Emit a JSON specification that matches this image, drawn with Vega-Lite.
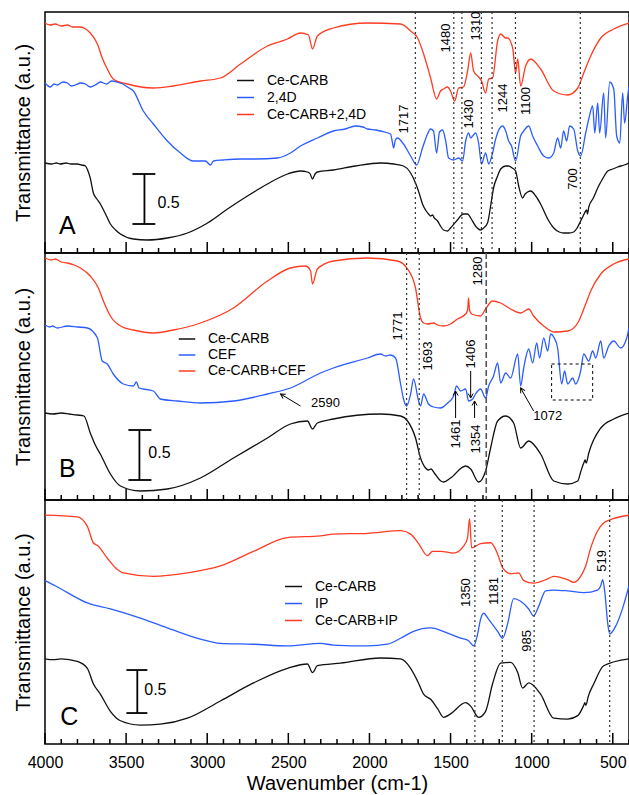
{
"$schema": "https://vega.github.io/schema/vega-lite/v6.json",
"padding": {"left": 12, "top": 10, "right": 0, "bottom": 0},
"spacing": 0,
"bounds": "flush",
"resolve": {"scale": {"color": "independent", "x": "independent", "y": "independent"}},
"config": {
  "font": "Liberation Sans",
  "view": {"stroke": "#000", "strokeWidth": 1.5},
  "axis": {"grid": false, "domain": false, "labelFont": "Liberation Sans", "labelFontSize": 16, "labelColor": "#000", "titleFont": "Liberation Sans", "titleColor": "#000", "titleFontWeight": "normal", "titleFontSize": 20},
  "legend": {"labelFont": "Liberation Sans", "labelFontSize": 14, "labelColor": "#000"}
},
"datasets": {
"tkA": [{"w":4000,"t":0,"t2":0.11},{"w":3900,"t":0,"t2":0.05},{"w":3800,"t":0,"t2":0.05},{"w":3700,"t":0,"t2":0.05},{"w":3600,"t":0,"t2":0.05},{"w":3500,"t":0,"t2":0.11},{"w":3400,"t":0,"t2":0.05},{"w":3300,"t":0,"t2":0.05},{"w":3200,"t":0,"t2":0.05},{"w":3100,"t":0,"t2":0.05},{"w":3000,"t":0,"t2":0.11},{"w":2900,"t":0,"t2":0.05},{"w":2800,"t":0,"t2":0.05},{"w":2700,"t":0,"t2":0.05},{"w":2600,"t":0,"t2":0.05},{"w":2500,"t":0,"t2":0.11},{"w":2400,"t":0,"t2":0.05},{"w":2300,"t":0,"t2":0.05},{"w":2200,"t":0,"t2":0.05},{"w":2100,"t":0,"t2":0.05},{"w":2000,"t":0,"t2":0.11},{"w":1900,"t":0,"t2":0.05},{"w":1800,"t":0,"t2":0.05},{"w":1700,"t":0,"t2":0.05},{"w":1600,"t":0,"t2":0.05},{"w":1500,"t":0,"t2":0.11},{"w":1400,"t":0,"t2":0.05},{"w":1300,"t":0,"t2":0.05},{"w":1200,"t":0,"t2":0.05},{"w":1100,"t":0,"t2":0.05},{"w":1000,"t":0,"t2":0.11},{"w":900,"t":0,"t2":0.05},{"w":800,"t":0,"t2":0.05},{"w":700,"t":0,"t2":0.05},{"w":600,"t":0,"t2":0.05},{"w":500,"t":0,"t2":0.11},{"w":400,"t":0,"t2":0.05}],
"tkC": [{"w":4000,"t":0.07,"t2":0.198},{"w":3900,"t":0.07,"t2":0.128},{"w":3800,"t":0.07,"t2":0.128},{"w":3700,"t":0.07,"t2":0.128},{"w":3600,"t":0.07,"t2":0.128},{"w":3500,"t":0.07,"t2":0.198},{"w":3400,"t":0.07,"t2":0.128},{"w":3300,"t":0.07,"t2":0.128},{"w":3200,"t":0.07,"t2":0.128},{"w":3100,"t":0.07,"t2":0.128},{"w":3000,"t":0.07,"t2":0.198},{"w":2900,"t":0.07,"t2":0.128},{"w":2800,"t":0.07,"t2":0.128},{"w":2700,"t":0.07,"t2":0.128},{"w":2600,"t":0.07,"t2":0.128},{"w":2500,"t":0.07,"t2":0.198},{"w":2400,"t":0.07,"t2":0.128},{"w":2300,"t":0.07,"t2":0.128},{"w":2200,"t":0.07,"t2":0.128},{"w":2100,"t":0.07,"t2":0.128},{"w":2000,"t":0.07,"t2":0.198},{"w":1900,"t":0.07,"t2":0.128},{"w":1800,"t":0.07,"t2":0.128},{"w":1700,"t":0.07,"t2":0.128},{"w":1600,"t":0.07,"t2":0.128},{"w":1500,"t":0.07,"t2":0.198},{"w":1400,"t":0.07,"t2":0.128},{"w":1300,"t":0.07,"t2":0.128},{"w":1200,"t":0.07,"t2":0.128},{"w":1100,"t":0.07,"t2":0.128},{"w":1000,"t":0.07,"t2":0.198},{"w":900,"t":0.07,"t2":0.128},{"w":800,"t":0.07,"t2":0.128},{"w":700,"t":0.07,"t2":0.128},{"w":600,"t":0.07,"t2":0.128},{"w":500,"t":0.07,"t2":0.198},{"w":400,"t":0.07,"t2":0.128}],
"A": [
{"w":4000,"t":0.90,"s":"Ce-CARB"},{"w":3960,"t":0.89,"s":"Ce-CARB"},{"w":3930,"t":0.90,"s":"Ce-CARB"},{"w":3906,"t":0.89,"s":"Ce-CARB"},{"w":3870,"t":0.90,"s":"Ce-CARB"},{"w":3840,"t":0.89,"s":"Ce-CARB"},{"w":3801,"t":0.89,"s":"Ce-CARB"},{"w":3775,"t":0.88,"s":"Ce-CARB"},{"w":3751,"t":0.87,"s":"Ce-CARB"},{"w":3735,"t":0.82,"s":"Ce-CARB"},{"w":3721,"t":0.75,"s":"Ce-CARB"},{"w":3702,"t":0.60,"s":"Ce-CARB"},{"w":3680,"t":0.54,"s":"Ce-CARB"},{"w":3659,"t":0.49,"s":"Ce-CARB"},{"w":3630,"t":0.40,"s":"Ce-CARB"},{"w":3597,"t":0.29,"s":"Ce-CARB"},{"w":3565,"t":0.23,"s":"Ce-CARB"},{"w":3535,"t":0.19,"s":"Ce-CARB"},{"w":3455,"t":0.14,"s":"Ce-CARB"},{"w":3369,"t":0.13,"s":"Ce-CARB"},{"w":3246,"t":0.15,"s":"Ce-CARB"},{"w":3122,"t":0.20,"s":"Ce-CARB"},{"w":2998,"t":0.30,"s":"Ce-CARB"},{"w":2875,"t":0.44,"s":"Ce-CARB"},{"w":2752,"t":0.57,"s":"Ce-CARB"},{"w":2629,"t":0.69,"s":"Ce-CARB"},{"w":2505,"t":0.79,"s":"Ce-CARB"},{"w":2425,"t":0.82,"s":"Ce-CARB"},{"w":2382,"t":0.81,"s":"Ce-CARB"},{"w":2365,"t":0.79,"s":"Ce-CARB"},{"w":2351,"t":0.74,"s":"Ce-CARB"},{"w":2335,"t":0.79,"s":"Ce-CARB"},{"w":2321,"t":0.81,"s":"Ce-CARB"},{"w":2222,"t":0.83,"s":"Ce-CARB"},{"w":2086,"t":0.87,"s":"Ce-CARB"},{"w":1932,"t":0.90,"s":"Ce-CARB"},{"w":1850,"t":0.89,"s":"Ce-CARB"},{"w":1790,"t":0.87,"s":"Ce-CARB"},{"w":1750,"t":0.81,"s":"Ce-CARB"},{"w":1716,"t":0.70,"s":"Ce-CARB"},{"w":1690,"t":0.58,"s":"Ce-CARB"},{"w":1673,"t":0.49,"s":"Ce-CARB"},{"w":1650,"t":0.42,"s":"Ce-CARB"},{"w":1636,"t":0.39,"s":"Ce-CARB"},{"w":1623,"t":0.37,"s":"Ce-CARB"},{"w":1611,"t":0.38,"s":"Ce-CARB"},{"w":1600,"t":0.35,"s":"Ce-CARB"},{"w":1580,"t":0.32,"s":"Ce-CARB"},{"w":1562,"t":0.27,"s":"Ce-CARB"},{"w":1543,"t":0.23,"s":"Ce-CARB"},{"w":1518,"t":0.22,"s":"Ce-CARB"},{"w":1500,"t":0.25,"s":"Ce-CARB"},{"w":1463,"t":0.32,"s":"Ce-CARB"},{"w":1420,"t":0.39,"s":"Ce-CARB"},{"w":1395,"t":0.39,"s":"Ce-CARB"},{"w":1376,"t":0.35,"s":"Ce-CARB"},{"w":1346,"t":0.27,"s":"Ce-CARB"},{"w":1315,"t":0.23,"s":"Ce-CARB"},{"w":1296,"t":0.25,"s":"Ce-CARB"},{"w":1272,"t":0.30,"s":"Ce-CARB"},{"w":1253,"t":0.47,"s":"Ce-CARB"},{"w":1235,"t":0.65,"s":"Ce-CARB"},{"w":1210,"t":0.77,"s":"Ce-CARB"},{"w":1191,"t":0.84,"s":"Ce-CARB"},{"w":1160,"t":0.87,"s":"Ce-CARB"},{"w":1142,"t":0.87,"s":"Ce-CARB"},{"w":1120,"t":0.85,"s":"Ce-CARB"},{"w":1099,"t":0.82,"s":"Ce-CARB"},{"w":1080,"t":0.67,"s":"Ce-CARB"},{"w":1056,"t":0.55,"s":"Ce-CARB"},{"w":1040,"t":0.59,"s":"Ce-CARB"},{"w":1025,"t":0.61,"s":"Ce-CARB"},{"w":1006,"t":0.62,"s":"Ce-CARB"},{"w":975,"t":0.57,"s":"Ce-CARB"},{"w":945,"t":0.49,"s":"Ce-CARB"},{"w":901,"t":0.34,"s":"Ce-CARB"},{"w":864,"t":0.25,"s":"Ce-CARB"},{"w":830,"t":0.21,"s":"Ce-CARB"},{"w":803,"t":0.20,"s":"Ce-CARB"},{"w":770,"t":0.20,"s":"Ce-CARB"},{"w":741,"t":0.21,"s":"Ce-CARB"},{"w":720,"t":0.25,"s":"Ce-CARB"},{"w":698,"t":0.32,"s":"Ce-CARB"},{"w":680,"t":0.38,"s":"Ce-CARB"},{"w":667,"t":0.42,"s":"Ce-CARB"},{"w":661,"t":0.43,"s":"Ce-CARB"},{"w":656,"t":0.39,"s":"Ce-CARB"},{"w":648,"t":0.46,"s":"Ce-CARB"},{"w":620,"t":0.55,"s":"Ce-CARB"},{"w":593,"t":0.65,"s":"Ce-CARB"},{"w":560,"t":0.75,"s":"Ce-CARB"},{"w":531,"t":0.82,"s":"Ce-CARB"},{"w":500,"t":0.84,"s":"Ce-CARB"},{"w":470,"t":0.86,"s":"Ce-CARB"},{"w":430,"t":0.88,"s":"Ce-CARB"},{"w":400,"t":0.90,"s":"Ce-CARB"},
{"w":4000,"t":1.70,"s":"2,4D"},{"w":3967,"t":1.66,"s":"2,4D"},{"w":3945,"t":1.69,"s":"2,4D"},{"w":3924,"t":1.68,"s":"2,4D"},{"w":3890,"t":1.71,"s":"2,4D"},{"w":3862,"t":1.70,"s":"2,4D"},{"w":3840,"t":1.67,"s":"2,4D"},{"w":3813,"t":1.68,"s":"2,4D"},{"w":3780,"t":1.70,"s":"2,4D"},{"w":3751,"t":1.69,"s":"2,4D"},{"w":3720,"t":1.66,"s":"2,4D"},{"w":3690,"t":1.68,"s":"2,4D"},{"w":3659,"t":1.71,"s":"2,4D"},{"w":3620,"t":1.69,"s":"2,4D"},{"w":3590,"t":1.72,"s":"2,4D"},{"w":3554,"t":1.71,"s":"2,4D"},{"w":3520,"t":1.69,"s":"2,4D"},{"w":3492,"t":1.66,"s":"2,4D"},{"w":3455,"t":1.62,"s":"2,4D"},{"w":3394,"t":1.42,"s":"2,4D"},{"w":3332,"t":1.29,"s":"2,4D"},{"w":3246,"t":1.12,"s":"2,4D"},{"w":3165,"t":1.00,"s":"2,4D"},{"w":3085,"t":0.92,"s":"2,4D"},{"w":3011,"t":0.92,"s":"2,4D"},{"w":2980,"t":0.88,"s":"2,4D"},{"w":2961,"t":0.92,"s":"2,4D"},{"w":2900,"t":0.93,"s":"2,4D"},{"w":2795,"t":0.94,"s":"2,4D"},{"w":2700,"t":0.94,"s":"2,4D"},{"w":2567,"t":0.95,"s":"2,4D"},{"w":2487,"t":1.00,"s":"2,4D"},{"w":2425,"t":1.07,"s":"2,4D"},{"w":2321,"t":1.15,"s":"2,4D"},{"w":2222,"t":1.22,"s":"2,4D"},{"w":2150,"t":1.24,"s":"2,4D"},{"w":2086,"t":1.27,"s":"2,4D"},{"w":2040,"t":1.26,"s":"2,4D"},{"w":2012,"t":1.24,"s":"2,4D"},{"w":1960,"t":1.23,"s":"2,4D"},{"w":1932,"t":1.22,"s":"2,4D"},{"w":1870,"t":1.19,"s":"2,4D"},{"w":1860,"t":1.12,"s":"2,4D"},{"w":1851,"t":1.05,"s":"2,4D"},{"w":1840,"t":1.13,"s":"2,4D"},{"w":1827,"t":1.15,"s":"2,4D"},{"w":1790,"t":1.09,"s":"2,4D"},{"w":1746,"t":0.97,"s":"2,4D"},{"w":1709,"t":0.88,"s":"2,4D"},{"w":1673,"t":1.05,"s":"2,4D"},{"w":1642,"t":1.19,"s":"2,4D"},{"w":1623,"t":1.24,"s":"2,4D"},{"w":1605,"t":1.22,"s":"2,4D"},{"w":1586,"t":1.00,"s":"2,4D"},{"w":1568,"t":1.21,"s":"2,4D"},{"w":1549,"t":1.23,"s":"2,4D"},{"w":1530,"t":1.12,"s":"2,4D"},{"w":1512,"t":0.95,"s":"2,4D"},{"w":1481,"t":0.93,"s":"2,4D"},{"w":1450,"t":0.95,"s":"2,4D"},{"w":1426,"t":0.92,"s":"2,4D"},{"w":1407,"t":1.12,"s":"2,4D"},{"w":1389,"t":1.20,"s":"2,4D"},{"w":1376,"t":1.15,"s":"2,4D"},{"w":1364,"t":1.17,"s":"2,4D"},{"w":1346,"t":1.20,"s":"2,4D"},{"w":1327,"t":1.10,"s":"2,4D"},{"w":1309,"t":0.89,"s":"2,4D"},{"w":1284,"t":1.00,"s":"2,4D"},{"w":1265,"t":0.89,"s":"2,4D"},{"w":1241,"t":1.00,"s":"2,4D"},{"w":1222,"t":1.14,"s":"2,4D"},{"w":1179,"t":1.27,"s":"2,4D"},{"w":1160,"t":1.22,"s":"2,4D"},{"w":1142,"t":1.12,"s":"2,4D"},{"w":1124,"t":1.07,"s":"2,4D"},{"w":1099,"t":0.92,"s":"2,4D"},{"w":1068,"t":1.17,"s":"2,4D"},{"w":1049,"t":1.22,"s":"2,4D"},{"w":1018,"t":1.27,"s":"2,4D"},{"w":994,"t":1.17,"s":"2,4D"},{"w":963,"t":1.07,"s":"2,4D"},{"w":926,"t":0.97,"s":"2,4D"},{"w":895,"t":0.95,"s":"2,4D"},{"w":864,"t":1.00,"s":"2,4D"},{"w":840,"t":1.15,"s":"2,4D"},{"w":821,"t":1.05,"s":"2,4D"},{"w":803,"t":1.22,"s":"2,4D"},{"w":784,"t":1.12,"s":"2,4D"},{"w":766,"t":1.27,"s":"2,4D"},{"w":741,"t":1.24,"s":"2,4D"},{"w":716,"t":1.02,"s":"2,4D"},{"w":698,"t":0.97,"s":"2,4D"},{"w":667,"t":1.20,"s":"2,4D"},{"w":648,"t":1.34,"s":"2,4D"},{"w":624,"t":1.47,"s":"2,4D"},{"w":611,"t":1.20,"s":"2,4D"},{"w":593,"t":1.50,"s":"2,4D"},{"w":581,"t":1.20,"s":"2,4D"},{"w":556,"t":1.60,"s":"2,4D"},{"w":544,"t":1.15,"s":"2,4D"},{"w":519,"t":1.71,"s":"2,4D"},{"w":494,"t":1.64,"s":"2,4D"},{"w":476,"t":1.17,"s":"2,4D"},{"w":457,"t":1.10,"s":"2,4D"},{"w":439,"t":1.60,"s":"2,4D"},{"w":427,"t":1.30,"s":"2,4D"},{"w":408,"t":1.57,"s":"2,4D"},{"w":400,"t":1.67,"s":"2,4D"},
{"w":4000,"t":2.30,"s":"Ce-CARB+2,4D"},{"w":3970,"t":2.28,"s":"Ce-CARB+2,4D"},{"w":3937,"t":2.29,"s":"Ce-CARB+2,4D"},{"w":3900,"t":2.27,"s":"Ce-CARB+2,4D"},{"w":3862,"t":2.28,"s":"Ce-CARB+2,4D"},{"w":3830,"t":2.26,"s":"Ce-CARB+2,4D"},{"w":3782,"t":2.26,"s":"Ce-CARB+2,4D"},{"w":3750,"t":2.24,"s":"Ce-CARB+2,4D"},{"w":3721,"t":2.20,"s":"Ce-CARB+2,4D"},{"w":3677,"t":2.09,"s":"Ce-CARB+2,4D"},{"w":3647,"t":1.95,"s":"Ce-CARB+2,4D"},{"w":3616,"t":1.84,"s":"Ce-CARB+2,4D"},{"w":3579,"t":1.74,"s":"Ce-CARB+2,4D"},{"w":3492,"t":1.69,"s":"Ce-CARB+2,4D"},{"w":3332,"t":1.65,"s":"Ce-CARB+2,4D"},{"w":3209,"t":1.67,"s":"Ce-CARB+2,4D"},{"w":3042,"t":1.72,"s":"Ce-CARB+2,4D"},{"w":2919,"t":1.75,"s":"Ce-CARB+2,4D"},{"w":2795,"t":1.89,"s":"Ce-CARB+2,4D"},{"w":2629,"t":2.07,"s":"Ce-CARB+2,4D"},{"w":2505,"t":2.14,"s":"Ce-CARB+2,4D"},{"w":2425,"t":2.20,"s":"Ce-CARB+2,4D"},{"w":2376,"t":2.18,"s":"Ce-CARB+2,4D"},{"w":2351,"t":2.04,"s":"Ce-CARB+2,4D"},{"w":2321,"t":2.17,"s":"Ce-CARB+2,4D"},{"w":2222,"t":2.25,"s":"Ce-CARB+2,4D"},{"w":2012,"t":2.30,"s":"Ce-CARB+2,4D"},{"w":1808,"t":2.29,"s":"Ce-CARB+2,4D"},{"w":1746,"t":2.22,"s":"Ce-CARB+2,4D"},{"w":1703,"t":2.15,"s":"Ce-CARB+2,4D"},{"w":1666,"t":1.99,"s":"Ce-CARB+2,4D"},{"w":1623,"t":1.75,"s":"Ce-CARB+2,4D"},{"w":1586,"t":1.54,"s":"Ce-CARB+2,4D"},{"w":1562,"t":1.62,"s":"Ce-CARB+2,4D"},{"w":1543,"t":1.64,"s":"Ce-CARB+2,4D"},{"w":1518,"t":1.66,"s":"Ce-CARB+2,4D"},{"w":1500,"t":1.62,"s":"Ce-CARB+2,4D"},{"w":1475,"t":1.52,"s":"Ce-CARB+2,4D"},{"w":1450,"t":1.65,"s":"Ce-CARB+2,4D"},{"w":1420,"t":1.66,"s":"Ce-CARB+2,4D"},{"w":1395,"t":1.82,"s":"Ce-CARB+2,4D"},{"w":1376,"t":2.00,"s":"Ce-CARB+2,4D"},{"w":1358,"t":1.82,"s":"Ce-CARB+2,4D"},{"w":1327,"t":1.76,"s":"Ce-CARB+2,4D"},{"w":1309,"t":1.72,"s":"Ce-CARB+2,4D"},{"w":1284,"t":1.60,"s":"Ce-CARB+2,4D"},{"w":1265,"t":1.74,"s":"Ce-CARB+2,4D"},{"w":1241,"t":1.75,"s":"Ce-CARB+2,4D"},{"w":1210,"t":2.12,"s":"Ce-CARB+2,4D"},{"w":1191,"t":2.19,"s":"Ce-CARB+2,4D"},{"w":1160,"t":2.15,"s":"Ce-CARB+2,4D"},{"w":1148,"t":2.15,"s":"Ce-CARB+2,4D"},{"w":1117,"t":2.05,"s":"Ce-CARB+2,4D"},{"w":1099,"t":1.80,"s":"Ce-CARB+2,4D"},{"w":1086,"t":1.94,"s":"Ce-CARB+2,4D"},{"w":1068,"t":1.67,"s":"Ce-CARB+2,4D"},{"w":1037,"t":1.87,"s":"Ce-CARB+2,4D"},{"w":1006,"t":1.94,"s":"Ce-CARB+2,4D"},{"w":945,"t":1.84,"s":"Ce-CARB+2,4D"},{"w":864,"t":1.62,"s":"Ce-CARB+2,4D"},{"w":778,"t":1.58,"s":"Ce-CARB+2,4D"},{"w":716,"t":1.65,"s":"Ce-CARB+2,4D"},{"w":679,"t":1.80,"s":"Ce-CARB+2,4D"},{"w":636,"t":1.97,"s":"Ce-CARB+2,4D"},{"w":574,"t":2.15,"s":"Ce-CARB+2,4D"},{"w":494,"t":2.24,"s":"Ce-CARB+2,4D"},{"w":400,"t":2.30,"s":"Ce-CARB+2,4D"}
],
"B": [
{"w":4000,"t":0.87,"s":"Ce-CARB"},{"w":3950,"t":0.86,"s":"Ce-CARB"},{"w":3900,"t":0.87,"s":"Ce-CARB"},{"w":3850,"t":0.86,"s":"Ce-CARB"},{"w":3801,"t":0.85,"s":"Ce-CARB"},{"w":3760,"t":0.84,"s":"Ce-CARB"},{"w":3721,"t":0.67,"s":"Ce-CARB"},{"w":3690,"t":0.55,"s":"Ce-CARB"},{"w":3659,"t":0.46,"s":"Ce-CARB"},{"w":3597,"t":0.26,"s":"Ce-CARB"},{"w":3535,"t":0.14,"s":"Ce-CARB"},{"w":3412,"t":0.09,"s":"Ce-CARB"},{"w":3246,"t":0.11,"s":"Ce-CARB"},{"w":3042,"t":0.22,"s":"Ce-CARB"},{"w":2838,"t":0.42,"s":"Ce-CARB"},{"w":2629,"t":0.62,"s":"Ce-CARB"},{"w":2487,"t":0.76,"s":"Ce-CARB"},{"w":2382,"t":0.79,"s":"Ce-CARB"},{"w":2351,"t":0.71,"s":"Ce-CARB"},{"w":2321,"t":0.77,"s":"Ce-CARB"},{"w":2222,"t":0.81,"s":"Ce-CARB"},{"w":1932,"t":0.86,"s":"Ce-CARB"},{"w":1808,"t":0.84,"s":"Ce-CARB"},{"w":1765,"t":0.79,"s":"Ce-CARB"},{"w":1716,"t":0.62,"s":"Ce-CARB"},{"w":1685,"t":0.42,"s":"Ce-CARB"},{"w":1654,"t":0.32,"s":"Ce-CARB"},{"w":1636,"t":0.30,"s":"Ce-CARB"},{"w":1620,"t":0.31,"s":"Ce-CARB"},{"w":1600,"t":0.27,"s":"Ce-CARB"},{"w":1560,"t":0.19,"s":"Ce-CARB"},{"w":1543,"t":0.18,"s":"Ce-CARB"},{"w":1500,"t":0.22,"s":"Ce-CARB"},{"w":1407,"t":0.34,"s":"Ce-CARB"},{"w":1376,"t":0.31,"s":"Ce-CARB"},{"w":1327,"t":0.18,"s":"Ce-CARB"},{"w":1284,"t":0.29,"s":"Ce-CARB"},{"w":1253,"t":0.52,"s":"Ce-CARB"},{"w":1210,"t":0.79,"s":"Ce-CARB"},{"w":1160,"t":0.84,"s":"Ce-CARB"},{"w":1111,"t":0.77,"s":"Ce-CARB"},{"w":1068,"t":0.52,"s":"Ce-CARB"},{"w":1018,"t":0.59,"s":"Ce-CARB"},{"w":945,"t":0.46,"s":"Ce-CARB"},{"w":864,"t":0.19,"s":"Ce-CARB"},{"w":778,"t":0.16,"s":"Ce-CARB"},{"w":716,"t":0.19,"s":"Ce-CARB"},{"w":698,"t":0.28,"s":"Ce-CARB"},{"w":679,"t":0.37,"s":"Ce-CARB"},{"w":670,"t":0.40,"s":"Ce-CARB"},{"w":664,"t":0.37,"s":"Ce-CARB"},{"w":648,"t":0.47,"s":"Ce-CARB"},{"w":574,"t":0.72,"s":"Ce-CARB"},{"w":494,"t":0.81,"s":"Ce-CARB"},{"w":400,"t":0.87,"s":"Ce-CARB"},
{"w":4000,"t":1.75,"s":"CEF"},{"w":3970,"t":1.73,"s":"CEF"},{"w":3955,"t":1.74,"s":"CEF"},{"w":3924,"t":1.72,"s":"CEF"},{"w":3862,"t":1.74,"s":"CEF"},{"w":3800,"t":1.73,"s":"CEF"},{"w":3739,"t":1.72,"s":"CEF"},{"w":3677,"t":1.62,"s":"CEF"},{"w":3647,"t":1.39,"s":"CEF"},{"w":3616,"t":1.36,"s":"CEF"},{"w":3579,"t":1.26,"s":"CEF"},{"w":3517,"t":1.16,"s":"CEF"},{"w":3455,"t":1.14,"s":"CEF"},{"w":3437,"t":1.18,"s":"CEF"},{"w":3420,"t":1.12,"s":"CEF"},{"w":3332,"t":1.09,"s":"CEF"},{"w":3289,"t":1.01,"s":"CEF"},{"w":3184,"t":0.99,"s":"CEF"},{"w":3042,"t":0.97,"s":"CEF"},{"w":2838,"t":0.99,"s":"CEF"},{"w":2629,"t":1.06,"s":"CEF"},{"w":2487,"t":1.12,"s":"CEF"},{"w":2302,"t":1.27,"s":"CEF"},{"w":2222,"t":1.32,"s":"CEF"},{"w":2012,"t":1.42,"s":"CEF"},{"w":1932,"t":1.46,"s":"CEF"},{"w":1900,"t":1.44,"s":"CEF"},{"w":1870,"t":1.45,"s":"CEF"},{"w":1839,"t":1.42,"s":"CEF"},{"w":1808,"t":1.16,"s":"CEF"},{"w":1790,"t":1.01,"s":"CEF"},{"w":1771,"t":0.94,"s":"CEF"},{"w":1746,"t":1.06,"s":"CEF"},{"w":1728,"t":1.21,"s":"CEF"},{"w":1697,"t":0.99,"s":"CEF"},{"w":1685,"t":0.94,"s":"CEF"},{"w":1666,"t":1.06,"s":"CEF"},{"w":1636,"t":0.96,"s":"CEF"},{"w":1605,"t":0.93,"s":"CEF"},{"w":1562,"t":0.92,"s":"CEF"},{"w":1518,"t":0.97,"s":"CEF"},{"w":1481,"t":1.04,"s":"CEF"},{"w":1463,"t":1.14,"s":"CEF"},{"w":1438,"t":1.09,"s":"CEF"},{"w":1407,"t":1.11,"s":"CEF"},{"w":1389,"t":0.99,"s":"CEF"},{"w":1364,"t":1.01,"s":"CEF"},{"w":1346,"t":1.06,"s":"CEF"},{"w":1315,"t":1.11,"s":"CEF"},{"w":1284,"t":1.02,"s":"CEF"},{"w":1265,"t":1.14,"s":"CEF"},{"w":1235,"t":1.24,"s":"CEF"},{"w":1210,"t":1.37,"s":"CEF"},{"w":1191,"t":1.17,"s":"CEF"},{"w":1160,"t":1.27,"s":"CEF"},{"w":1130,"t":1.22,"s":"CEF"},{"w":1086,"t":1.46,"s":"CEF"},{"w":1068,"t":1.14,"s":"CEF"},{"w":1049,"t":1.32,"s":"CEF"},{"w":1018,"t":1.51,"s":"CEF"},{"w":994,"t":1.37,"s":"CEF"},{"w":969,"t":1.57,"s":"CEF"},{"w":951,"t":1.42,"s":"CEF"},{"w":926,"t":1.62,"s":"CEF"},{"w":901,"t":1.49,"s":"CEF"},{"w":883,"t":1.66,"s":"CEF"},{"w":864,"t":1.63,"s":"CEF"},{"w":840,"t":1.52,"s":"CEF"},{"w":815,"t":1.16,"s":"CEF"},{"w":797,"t":1.29,"s":"CEF"},{"w":778,"t":1.16,"s":"CEF"},{"w":747,"t":1.22,"s":"CEF"},{"w":729,"t":1.16,"s":"CEF"},{"w":698,"t":1.29,"s":"CEF"},{"w":679,"t":1.46,"s":"CEF"},{"w":648,"t":1.39,"s":"CEF"},{"w":624,"t":1.49,"s":"CEF"},{"w":605,"t":1.42,"s":"CEF"},{"w":574,"t":1.59,"s":"CEF"},{"w":556,"t":1.42,"s":"CEF"},{"w":525,"t":1.54,"s":"CEF"},{"w":494,"t":1.59,"s":"CEF"},{"w":451,"t":1.52,"s":"CEF"},{"w":414,"t":1.62,"s":"CEF"},{"w":400,"t":1.72,"s":"CEF"},
{"w":4000,"t":2.42,"s":"Ce-CARB+CEF"},{"w":3960,"t":2.40,"s":"Ce-CARB+CEF"},{"w":3937,"t":2.41,"s":"Ce-CARB+CEF"},{"w":3900,"t":2.38,"s":"Ce-CARB+CEF"},{"w":3862,"t":2.37,"s":"Ce-CARB+CEF"},{"w":3820,"t":2.35,"s":"Ce-CARB+CEF"},{"w":3782,"t":2.32,"s":"Ce-CARB+CEF"},{"w":3721,"t":2.24,"s":"Ce-CARB+CEF"},{"w":3671,"t":2.12,"s":"Ce-CARB+CEF"},{"w":3640,"t":1.99,"s":"Ce-CARB+CEF"},{"w":3597,"t":1.84,"s":"Ce-CARB+CEF"},{"w":3535,"t":1.74,"s":"Ce-CARB+CEF"},{"w":3455,"t":1.70,"s":"Ce-CARB+CEF"},{"w":3332,"t":1.67,"s":"Ce-CARB+CEF"},{"w":3209,"t":1.70,"s":"Ce-CARB+CEF"},{"w":3042,"t":1.77,"s":"Ce-CARB+CEF"},{"w":2838,"t":1.92,"s":"Ce-CARB+CEF"},{"w":2629,"t":2.19,"s":"Ce-CARB+CEF"},{"w":2487,"t":2.32,"s":"Ce-CARB+CEF"},{"w":2394,"t":2.34,"s":"Ce-CARB+CEF"},{"w":2363,"t":2.29,"s":"Ce-CARB+CEF"},{"w":2351,"t":2.16,"s":"Ce-CARB+CEF"},{"w":2321,"t":2.31,"s":"Ce-CARB+CEF"},{"w":2222,"t":2.39,"s":"Ce-CARB+CEF"},{"w":2012,"t":2.42,"s":"Ce-CARB+CEF"},{"w":1827,"t":2.39,"s":"Ce-CARB+CEF"},{"w":1765,"t":2.31,"s":"Ce-CARB+CEF"},{"w":1716,"t":2.12,"s":"Ce-CARB+CEF"},{"w":1685,"t":1.82,"s":"Ce-CARB+CEF"},{"w":1666,"t":1.77,"s":"Ce-CARB+CEF"},{"w":1640,"t":1.76,"s":"Ce-CARB+CEF"},{"w":1605,"t":1.77,"s":"Ce-CARB+CEF"},{"w":1580,"t":1.75,"s":"Ce-CARB+CEF"},{"w":1543,"t":1.74,"s":"Ce-CARB+CEF"},{"w":1500,"t":1.76,"s":"Ce-CARB+CEF"},{"w":1457,"t":1.81,"s":"Ce-CARB+CEF"},{"w":1407,"t":1.86,"s":"Ce-CARB+CEF"},{"w":1395,"t":1.90,"s":"Ce-CARB+CEF"},{"w":1389,"t":2.02,"s":"Ce-CARB+CEF"},{"w":1383,"t":1.90,"s":"Ce-CARB+CEF"},{"w":1370,"t":1.86,"s":"Ce-CARB+CEF"},{"w":1315,"t":1.84,"s":"Ce-CARB+CEF"},{"w":1284,"t":1.91,"s":"Ce-CARB+CEF"},{"w":1241,"t":1.99,"s":"Ce-CARB+CEF"},{"w":1191,"t":1.97,"s":"Ce-CARB+CEF"},{"w":1130,"t":1.91,"s":"Ce-CARB+CEF"},{"w":1068,"t":1.87,"s":"Ce-CARB+CEF"},{"w":1018,"t":1.91,"s":"Ce-CARB+CEF"},{"w":988,"t":1.84,"s":"Ce-CARB+CEF"},{"w":926,"t":1.74,"s":"Ce-CARB+CEF"},{"w":864,"t":1.68,"s":"Ce-CARB+CEF"},{"w":778,"t":1.69,"s":"Ce-CARB+CEF"},{"w":716,"t":1.77,"s":"Ce-CARB+CEF"},{"w":667,"t":1.96,"s":"Ce-CARB+CEF"},{"w":636,"t":2.09,"s":"Ce-CARB+CEF"},{"w":574,"t":2.26,"s":"Ce-CARB+CEF"},{"w":494,"t":2.36,"s":"Ce-CARB+CEF"},{"w":400,"t":2.41,"s":"Ce-CARB+CEF"}
],
"C": [
{"w":4000,"t":1.06,"s":"Ce-CARB"},{"w":3950,"t":1.05,"s":"Ce-CARB"},{"w":3900,"t":1.06,"s":"Ce-CARB"},{"w":3801,"t":1.03,"s":"Ce-CARB"},{"w":3739,"t":0.95,"s":"Ce-CARB"},{"w":3702,"t":0.77,"s":"Ce-CARB"},{"w":3659,"t":0.65,"s":"Ce-CARB"},{"w":3597,"t":0.45,"s":"Ce-CARB"},{"w":3535,"t":0.34,"s":"Ce-CARB"},{"w":3412,"t":0.29,"s":"Ce-CARB"},{"w":3289,"t":0.30,"s":"Ce-CARB"},{"w":3122,"t":0.37,"s":"Ce-CARB"},{"w":2919,"t":0.57,"s":"Ce-CARB"},{"w":2715,"t":0.78,"s":"Ce-CARB"},{"w":2505,"t":0.95,"s":"Ce-CARB"},{"w":2382,"t":1.00,"s":"Ce-CARB"},{"w":2351,"t":0.90,"s":"Ce-CARB"},{"w":2321,"t":0.98,"s":"Ce-CARB"},{"w":2178,"t":1.01,"s":"Ce-CARB"},{"w":1932,"t":1.07,"s":"Ce-CARB"},{"w":1808,"t":1.06,"s":"Ce-CARB"},{"w":1746,"t":0.95,"s":"Ce-CARB"},{"w":1703,"t":0.80,"s":"Ce-CARB"},{"w":1666,"t":0.65,"s":"Ce-CARB"},{"w":1623,"t":0.59,"s":"Ce-CARB"},{"w":1580,"t":0.48,"s":"Ce-CARB"},{"w":1543,"t":0.38,"s":"Ce-CARB"},{"w":1500,"t":0.42,"s":"Ce-CARB"},{"w":1407,"t":0.55,"s":"Ce-CARB"},{"w":1376,"t":0.51,"s":"Ce-CARB"},{"w":1327,"t":0.38,"s":"Ce-CARB"},{"w":1284,"t":0.45,"s":"Ce-CARB"},{"w":1241,"t":0.77,"s":"Ce-CARB"},{"w":1191,"t":1.01,"s":"Ce-CARB"},{"w":1130,"t":1.02,"s":"Ce-CARB"},{"w":1086,"t":0.90,"s":"Ce-CARB"},{"w":1056,"t":0.72,"s":"Ce-CARB"},{"w":1018,"t":0.78,"s":"Ce-CARB"},{"w":945,"t":0.65,"s":"Ce-CARB"},{"w":864,"t":0.37,"s":"Ce-CARB"},{"w":778,"t":0.36,"s":"Ce-CARB"},{"w":716,"t":0.40,"s":"Ce-CARB"},{"w":679,"t":0.52,"s":"Ce-CARB"},{"w":672,"t":0.55,"s":"Ce-CARB"},{"w":666,"t":0.52,"s":"Ce-CARB"},{"w":650,"t":0.63,"s":"Ce-CARB"},{"w":617,"t":0.77,"s":"Ce-CARB"},{"w":556,"t":0.98,"s":"Ce-CARB"},{"w":400,"t":1.06,"s":"Ce-CARB"},
{"w":4000,"t":1.97,"s":"IP"},{"w":3937,"t":1.91,"s":"IP"},{"w":3862,"t":1.83,"s":"IP"},{"w":3739,"t":1.71,"s":"IP"},{"w":3597,"t":1.64,"s":"IP"},{"w":3455,"t":1.56,"s":"IP"},{"w":3246,"t":1.42,"s":"IP"},{"w":3042,"t":1.29,"s":"IP"},{"w":2919,"t":1.24,"s":"IP"},{"w":2715,"t":1.23,"s":"IP"},{"w":2505,"t":1.21,"s":"IP"},{"w":2302,"t":1.24,"s":"IP"},{"w":2222,"t":1.22,"s":"IP"},{"w":2012,"t":1.21,"s":"IP"},{"w":1889,"t":1.23,"s":"IP"},{"w":1808,"t":1.30,"s":"IP"},{"w":1728,"t":1.38,"s":"IP"},{"w":1623,"t":1.42,"s":"IP"},{"w":1518,"t":1.36,"s":"IP"},{"w":1438,"t":1.30,"s":"IP"},{"w":1389,"t":1.27,"s":"IP"},{"w":1358,"t":1.21,"s":"IP"},{"w":1333,"t":1.35,"s":"IP"},{"w":1315,"t":1.52,"s":"IP"},{"w":1296,"t":1.59,"s":"IP"},{"w":1265,"t":1.52,"s":"IP"},{"w":1210,"t":1.38,"s":"IP"},{"w":1179,"t":1.30,"s":"IP"},{"w":1148,"t":1.47,"s":"IP"},{"w":1111,"t":1.76,"s":"IP"},{"w":1068,"t":1.73,"s":"IP"},{"w":1018,"t":1.64,"s":"IP"},{"w":988,"t":1.56,"s":"IP"},{"w":957,"t":1.67,"s":"IP"},{"w":914,"t":1.85,"s":"IP"},{"w":864,"t":1.86,"s":"IP"},{"w":778,"t":1.85,"s":"IP"},{"w":679,"t":1.83,"s":"IP"},{"w":593,"t":1.86,"s":"IP"},{"w":574,"t":1.91,"s":"IP"},{"w":562,"t":1.98,"s":"IP"},{"w":550,"t":1.85,"s":"IP"},{"w":531,"t":1.47,"s":"IP"},{"w":519,"t":1.35,"s":"IP"},{"w":482,"t":1.44,"s":"IP"},{"w":439,"t":1.65,"s":"IP"},{"w":400,"t":1.91,"s":"IP"},
{"w":4000,"t":2.73,"s":"Ce-CARB+IP"},{"w":3801,"t":2.71,"s":"Ce-CARB+IP"},{"w":3739,"t":2.60,"s":"Ce-CARB+IP"},{"w":3702,"t":2.41,"s":"Ce-CARB+IP"},{"w":3671,"t":2.37,"s":"Ce-CARB+IP"},{"w":3616,"t":2.23,"s":"Ce-CARB+IP"},{"w":3566,"t":2.12,"s":"Ce-CARB+IP"},{"w":3517,"t":2.06,"s":"Ce-CARB+IP"},{"w":3332,"t":2.02,"s":"Ce-CARB+IP"},{"w":3122,"t":2.06,"s":"Ce-CARB+IP"},{"w":2919,"t":2.14,"s":"Ce-CARB+IP"},{"w":2715,"t":2.31,"s":"Ce-CARB+IP"},{"w":2505,"t":2.47,"s":"Ce-CARB+IP"},{"w":2302,"t":2.49,"s":"Ce-CARB+IP"},{"w":2222,"t":2.51,"s":"Ce-CARB+IP"},{"w":2012,"t":2.52,"s":"Ce-CARB+IP"},{"w":1808,"t":2.55,"s":"Ce-CARB+IP"},{"w":1746,"t":2.51,"s":"Ce-CARB+IP"},{"w":1697,"t":2.40,"s":"Ce-CARB+IP"},{"w":1642,"t":2.26,"s":"Ce-CARB+IP"},{"w":1611,"t":2.31,"s":"Ce-CARB+IP"},{"w":1562,"t":2.31,"s":"Ce-CARB+IP"},{"w":1481,"t":2.29,"s":"Ce-CARB+IP"},{"w":1420,"t":2.37,"s":"Ce-CARB+IP"},{"w":1395,"t":2.47,"s":"Ce-CARB+IP"},{"w":1383,"t":2.69,"s":"Ce-CARB+IP"},{"w":1370,"t":2.35,"s":"Ce-CARB+IP"},{"w":1315,"t":2.40,"s":"Ce-CARB+IP"},{"w":1253,"t":2.41,"s":"Ce-CARB+IP"},{"w":1210,"t":2.28,"s":"Ce-CARB+IP"},{"w":1179,"t":2.12,"s":"Ce-CARB+IP"},{"w":1130,"t":2.05,"s":"Ce-CARB+IP"},{"w":1080,"t":2.06,"s":"Ce-CARB+IP"},{"w":1049,"t":1.97,"s":"Ce-CARB+IP"},{"w":988,"t":1.94,"s":"Ce-CARB+IP"},{"w":901,"t":1.99,"s":"Ce-CARB+IP"},{"w":864,"t":2.02,"s":"Ce-CARB+IP"},{"w":778,"t":1.98,"s":"Ce-CARB+IP"},{"w":741,"t":1.95,"s":"Ce-CARB+IP"},{"w":698,"t":2.02,"s":"Ce-CARB+IP"},{"w":667,"t":2.14,"s":"Ce-CARB+IP"},{"w":636,"t":2.35,"s":"Ce-CARB+IP"},{"w":593,"t":2.55,"s":"Ce-CARB+IP"},{"w":556,"t":2.64,"s":"Ce-CARB+IP"},{"w":525,"t":2.67,"s":"Ce-CARB+IP"},{"w":400,"t":2.73,"s":"Ce-CARB+IP"}
]
},
"vconcat": [
{
"width": 584, "height": 241,
"encoding": {"x": {"field": "w", "type": "quantitative", "scale": {"domain": [4000, 400], "nice": false, "zero": false}, "axis": null}},
"layer": [
{"data": {"name": "A"}, "mark": {"type": "line", "strokeWidth": 1.3, "interpolate": "monotone"},
 "encoding": {
  "y": {"field": "t", "type": "quantitative", "scale": {"domain": [0, 2.41], "nice": false, "zero": false},
        "axis": {"title": "Transmittance (a.u.)", "labels": false, "ticks": false, "titlePadding": 12}},
  "color": {"field": "s", "type": "nominal", "scale": {"domain": ["Ce-CARB", "2,4D", "Ce-CARB+2,4D"], "range": ["#111111", "#2a5cff", "#ff3b21"]},
            "legend": {"orient": "none", "legendX": 191, "legendY": 59, "title": null, "symbolType": "stroke", "symbolSize": 289, "symbolStrokeWidth": 1.5, "labelOffset": 12, "rowPadding": 0, "padding": 0}}
 }},
{"data": {"name": "tkA"}, "mark": {"type": "rule", "color": "#000", "strokeWidth": 1.5},
 "encoding": {"y": {"field": "t", "type": "quantitative", "scale": {"domain": [0, 2.41], "nice": false, "zero": false}}, "y2": {"field": "t2"}}},
{"data": {"values": [{"w":1717},{"w":1480},{"w":1430},{"w":1310},{"w":1244},{"w":1100},{"w":700}]},
 "mark": {"type": "rule", "strokeDash": [2, 3], "color": "#333", "strokeWidth": 1.2},
 "encoding": {}},
{"data": {"values": [{"w":1790,"t":1.34,"lab":"1717"},{"w":1531,"t":2.15,"lab":"1480"},{"w":1346,"t":2.27,"lab":"1310"},{"w":1389,"t":1.39,"lab":"1430"},{"w":1179,"t":1.55,"lab":"1244"},{"w":1037,"t":1.52,"lab":"1100"},{"w":747,"t":0.74,"lab":"700"}]},
 "mark": {"type": "text", "angle": 270, "fontSize": 13, "align": "center", "baseline": "middle", "color": "#000"},
 "encoding": {"y": {"field": "t", "type": "quantitative", "scale": {"domain": [0, 2.41], "nice": false, "zero": false}},
              "text": {"field": "lab"}}},
{"data": {"values": [{"w":3387,"w2":3387,"t":0.29,"t2":0.79},{"w":3461,"w2":3320,"t":0.29,"t2":0.29},{"w":3461,"w2":3320,"t":0.79,"t2":0.79}]},
 "mark": {"type": "rule", "color": "#000", "strokeWidth": 1.8},
 "encoding": {"x2": {"field": "w2"},
              "y": {"field": "t", "type": "quantitative", "scale": {"domain": [0, 2.41], "nice": false, "zero": false}}, "y2": {"field": "t2"}}},
{"data": {"values": [{"w":3307,"t":0.50,"lab":"0.5"}]},
 "mark": {"type": "text", "fontSize": 16, "align": "left", "baseline": "middle", "color": "#000"},
 "encoding": {"y": {"field": "t", "type": "quantitative", "scale": {"domain": [0, 2.41], "nice": false, "zero": false}},
              "text": {"field": "lab"}}},
{"data": {"values": [{"w":3862,"t":0.27,"lab":"A"}]},
 "mark": {"type": "text", "fontSize": 25, "align": "center", "baseline": "middle", "color": "#000"},
 "encoding": {"y": {"field": "t", "type": "quantitative", "scale": {"domain": [0, 2.41], "nice": false, "zero": false}},
              "text": {"field": "lab"}}}
]
},
{
"width": 584, "height": 247,
"encoding": {"x": {"field": "w", "type": "quantitative", "scale": {"domain": [4000, 400], "nice": false, "zero": false}, "axis": null}},
"layer": [
{"data": {"name": "B"}, "mark": {"type": "line", "strokeWidth": 1.3, "interpolate": "monotone"},
 "encoding": {
  "y": {"field": "t", "type": "quantitative", "scale": {"domain": [0, 2.47], "nice": false, "zero": false},
        "axis": {"title": "Transmittance (a.u.)", "labels": false, "ticks": false, "titlePadding": 12}},
  "color": {"field": "s", "type": "nominal", "scale": {"domain": ["Ce-CARB", "CEF", "Ce-CARB+CEF"], "range": ["#111111", "#2a5cff", "#ff3b21"]},
            "legend": {"orient": "none", "legendX": 133, "legendY": 77, "title": null, "symbolType": "stroke", "symbolSize": 272, "symbolStrokeWidth": 1.5, "labelOffset": 12, "rowPadding": 0, "padding": 0}}
 }},
{"data": {"name": "tkA"}, "mark": {"type": "rule", "color": "#000", "strokeWidth": 1.5},
 "encoding": {"y": {"field": "t", "type": "quantitative", "scale": {"domain": [0, 2.47], "nice": false, "zero": false}}, "y2": {"field": "t2"}}},
{"data": {"values": [{"w":1771},{"w":1693}]},
 "mark": {"type": "rule", "strokeDash": [2, 3], "color": "#333", "strokeWidth": 1.2},
 "encoding": {}},
{"data": {"values": [{"w":1280}]},
 "mark": {"type": "rule", "strokeDash": [6, 3], "color": "#555", "strokeWidth": 1.6},
 "encoding": {}},
{"data": {"values": [{"w":877,"w2":624,"t":1.36,"t2":1.00}]},
 "mark": {"type": "rect", "fillOpacity": 0, "stroke": "#000", "strokeWidth": 1, "strokeDash": [3, 3]},
 "encoding": {"x2": {"field": "w2"},
              "y": {"field": "t", "type": "quantitative", "scale": {"domain": [0, 2.47], "nice": false, "zero": false}}, "y2": {"field": "t2"}}},
{"data": {"values": [{"w":1827,"t":1.74,"lab":"1771"},{"w":1636,"t":1.44,"lab":"1693"},{"w":1333,"t":2.29,"lab":"1280"},{"w":1376,"t":1.46,"lab":"1406"},{"w":1469,"t":0.66,"lab":"1461"},{"w":1346,"t":0.61,"lab":"1354"}]},
 "mark": {"type": "text", "angle": 270, "fontSize": 13, "align": "center", "baseline": "middle", "color": "#000"},
 "encoding": {"y": {"field": "t", "type": "quantitative", "scale": {"domain": [0, 2.47], "nice": false, "zero": false}},
              "text": {"field": "lab"}}},
{"data": {"values": [{"w":2271,"t":0.97,"lab":"2590"},{"w":901,"t":0.84,"lab":"1072"}]},
 "mark": {"type": "text", "fontSize": 13, "align": "center", "baseline": "middle", "color": "#000"},
 "encoding": {"y": {"field": "t", "type": "quantitative", "scale": {"domain": [0, 2.47], "nice": false, "zero": false}},
              "text": {"field": "lab"}}},
{"data": {"values": [{"w":3418,"w2":3418,"t":0.20,"t2":0.70},{"w":3486,"w2":3344,"t":0.20,"t2":0.20},{"w":3486,"w2":3344,"t":0.70,"t2":0.70}]},
 "mark": {"type": "rule", "color": "#000", "strokeWidth": 1.8},
 "encoding": {"x2": {"field": "w2"},
              "y": {"field": "t", "type": "quantitative", "scale": {"domain": [0, 2.47], "nice": false, "zero": false}}, "y2": {"field": "t2"}}},
{"data": {"values": [{"w":2425,"w2":2548,"t":0.94,"t2":1.06},{"w":1469,"w2":1469,"t":0.82,"t2":1.09},{"w":1352,"w2":1352,"t":0.82,"t2":0.99},{"w":1376,"w2":1376,"t":1.29,"t2":1.02},{"w":988,"w2":1068,"t":0.89,"t2":1.12}]},
 "mark": {"type": "rule", "color": "#000", "strokeWidth": 1},
 "encoding": {"x2": {"field": "w2"},
              "y": {"field": "t", "type": "quantitative", "scale": {"domain": [0, 2.47], "nice": false, "zero": false}}, "y2": {"field": "t2"}}},
{"data": {"values": [{"w":2548,"t":1.06,"dir":301},{"w":1469,"t":1.09,"dir":0},{"w":1352,"t":0.99,"dir":0},{"w":1376,"t":1.02,"dir":180},{"w":1068,"t":1.12,"dir":330}]},
 "mark": {"type": "point", "shape": "M-0.5,0.9L0,0L0.5,0.9", "filled": false, "stroke": "#000", "strokeWidth": 1, "size": 100, "opacity": 1},
 "encoding": {"y": {"field": "t", "type": "quantitative", "scale": {"domain": [0, 2.47], "nice": false, "zero": false}},
              "angle": {"field": "dir", "type": "quantitative", "scale": null}}},
{"data": {"values": [{"w":3363,"t":0.47,"lab":"0.5"}]},
 "mark": {"type": "text", "fontSize": 16, "align": "left", "baseline": "middle", "color": "#000"},
 "encoding": {"y": {"field": "t", "type": "quantitative", "scale": {"domain": [0, 2.47], "nice": false, "zero": false}},
              "text": {"field": "lab"}}},
{"data": {"values": [{"w":3862,"t":0.31,"lab":"B"}]},
 "mark": {"type": "text", "fontSize": 25, "align": "center", "baseline": "middle", "color": "#000"},
 "encoding": {"y": {"field": "t", "type": "quantitative", "scale": {"domain": [0, 2.47], "nice": false, "zero": false}},
              "text": {"field": "lab"}}}
]
},
{
"width": 584, "height": 244,
"encoding": {"x": {"field": "w", "type": "quantitative", "scale": {"domain": [4000, 400], "nice": false, "zero": false},
  "axis": {"values": [4000,3500,3000,2500,2000,1500,1000,500], "format": "d", "labelOverlap": false, "labelFlush": false, "labelPadding": 10, "ticks": false,
           "title": "Wavenumber (cm-1)", "titlePadding": 3}}},
"layer": [
{"data": {"name": "C"}, "mark": {"type": "line", "strokeWidth": 1.3, "interpolate": "monotone"},
 "encoding": {
  "y": {"field": "t", "type": "quantitative", "scale": {"domain": [0.07, 2.907], "nice": false, "zero": false},
        "axis": {"title": "Transmittance (a.u.)", "labels": false, "ticks": false, "titlePadding": 12}},
  "color": {"field": "s", "type": "nominal", "scale": {"domain": ["Ce-CARB", "IP", "Ce-CARB+IP"], "range": ["#111111", "#2a5cff", "#ff3b21"]},
            "legend": {"orient": "none", "legendX": 239, "legendY": 77, "title": null, "symbolType": "stroke", "symbolSize": 289, "symbolStrokeWidth": 1.5, "labelOffset": 12, "rowPadding": 0, "padding": 0}}
 }},
{"data": {"name": "tkC"}, "mark": {"type": "rule", "color": "#000", "strokeWidth": 1.5},
 "encoding": {"y": {"field": "t", "type": "quantitative", "scale": {"domain": [0.07, 2.907], "nice": false, "zero": false}}, "y2": {"field": "t2"}}},
{"data": {"values": [{"w":1350},{"w":1181},{"w":985},{"w":519}]},
 "mark": {"type": "rule", "strokeDash": [2, 3], "color": "#333", "strokeWidth": 1.2},
 "encoding": {}},
{"data": {"values": [{"w":1407,"t":1.83,"lab":"1350"},{"w":1235,"t":1.85,"lab":"1181"},{"w":1031,"t":1.27,"lab":"985"},{"w":568,"t":2.20,"lab":"519"}]},
 "mark": {"type": "text", "angle": 270, "fontSize": 13, "align": "center", "baseline": "middle", "color": "#000"},
 "encoding": {"y": {"field": "t", "type": "quantitative", "scale": {"domain": [0.07, 2.907], "nice": false, "zero": false}},
              "text": {"field": "lab"}}},
{"data": {"values": [{"w":3431,"w2":3431,"t":0.43,"t2":0.93},{"w":3498,"w2":3369,"t":0.43,"t2":0.43},{"w":3498,"w2":3369,"t":0.93,"t2":0.93}]},
 "mark": {"type": "rule", "color": "#000", "strokeWidth": 1.8},
 "encoding": {"x2": {"field": "w2"},
              "y": {"field": "t", "type": "quantitative", "scale": {"domain": [0.07, 2.907], "nice": false, "zero": false}}, "y2": {"field": "t2"}}},
{"data": {"values": [{"w":3388,"t":0.70,"lab":"0.5"}]},
 "mark": {"type": "text", "fontSize": 16, "align": "left", "baseline": "middle", "color": "#000"},
 "encoding": {"y": {"field": "t", "type": "quantitative", "scale": {"domain": [0.07, 2.907], "nice": false, "zero": false}},
              "text": {"field": "lab"}}},
{"data": {"values": [{"w":3850,"t":0.38,"lab":"C"}]},
 "mark": {"type": "text", "fontSize": 25, "align": "center", "baseline": "middle", "color": "#000"},
 "encoding": {"y": {"field": "t", "type": "quantitative", "scale": {"domain": [0.07, 2.907], "nice": false, "zero": false}},
              "text": {"field": "lab"}}}
]
}
]
}
